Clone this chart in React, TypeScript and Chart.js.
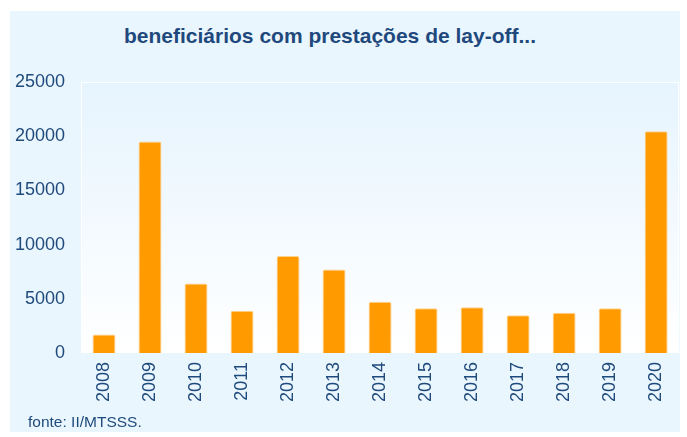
import React, { useEffect, useRef } from "react";
import { Chart, registerables } from "chart.js";

Chart.register(...registerables);

const years = ["2008", "2009", "2010", "2011", "2012", "2013", "2014", "2015", "2016", "2017", "2018", "2019", "2020"];
const beneficiarios = [1700, 19500, 6400, 3900, 8950, 7700, 4730, 4120, 4210, 3480, 3720, 4120, 20450];
const yTicks = [0, 5000, 10000, 15000, 20000, 25000];

const titleText = "beneficiários com prestações de lay-off...";
const sourceText = "fonte: II/MTSSS.";

const TEXT = "#1F4A7C";
const PANEL = "#EAF6FD";
const FONT = "'Liberation Sans', Arial, sans-serif";

const bgPlugin = {
  id: "bgPlugin",
  beforeDraw(chart: any) {
    const { ctx, chartArea } = chart;
    const { left, top, right, bottom } = chartArea;
    ctx.save();
    const g = ctx.createLinearGradient(0, top, 0, bottom);
    g.addColorStop(0, "#E6F4FE");
    g.addColorStop(1, "#FFFFFF");
    ctx.fillStyle = g;
    ctx.fillRect(left, top, right - left, bottom - top);
    ctx.strokeStyle = "rgba(255,255,255,0.9)";
    ctx.lineWidth = 1;
    ctx.strokeRect(left + 0.5, top + 0.5, right - left - 1, bottom - top - 1);
    ctx.restore();
  },
};

export default function App() {
  const ref = useRef<HTMLCanvasElement | null>(null);
  useEffect(() => {
    if (!ref.current) return;
    const chart = new Chart(ref.current, {
      type: "bar",
      data: {
        labels: years,
        datasets: [
          {
            data: beneficiarios,
            backgroundColor: "#FF9A00",
            borderColor: "rgba(255,205,130,0.9)",
            borderWidth: 1,
            borderRadius: 2,
            borderSkipped: "bottom",
            barPercentage: 0.5,
            categoryPercentage: 1,
          },
        ],
      },
      options: {
        responsive: false,
        animation: false,
        devicePixelRatio: 1,
        layout: { padding: { left: 0, right: 7, top: 82, bottom: 0 } },
        plugins: { legend: { display: false }, tooltip: { enabled: false }, title: { display: false } },
        scales: {
          x: {
            grid: { display: false, drawTicks: false },
            border: { display: false },
            ticks: {
              color: TEXT,
              font: { family: FONT, size: 18 },
              minRotation: 90,
              maxRotation: 90,
              padding: 9,
              autoSkip: false,
            },
            afterFit(scale: any) {
              scale.height = 84;
            },
          },
          y: {
            min: 0,
            max: 25000,
            grid: { display: false, drawTicks: false },
            border: { display: false },
            afterBuildTicks(scale: any) {
              scale.ticks = yTicks.map((v) => ({ value: v }));
            },
            ticks: {
              color: TEXT,
              font: { family: FONT, size: 18 },
              padding: 16,
              callback: (v: any) => String(v),
            },
            afterFit(scale: any) {
              scale.width = 81;
            },
          },
        },
      },
      plugins: [bgPlugin],
    });
    return () => chart.destroy();
  }, []);

  return (
    <div style={{ position: "fixed", left: 0, top: 0, width: 687, height: 437, background: "#FFFFFF", overflow: "hidden" }}>
      <div style={{ position: "absolute", left: 10, top: 11, width: 670, height: 421, background: PANEL }} />
      <div
        style={{
          position: "absolute",
          left: 0,
          top: 26,
          width: 660,
          textAlign: "center",
          fontFamily: FONT,
          fontWeight: "bold",
          fontSize: 21,
          lineHeight: "20px",
          color: "#1F497D",
          whiteSpace: "nowrap",
        }}
      >
        {titleText}
      </div>
      <canvas ref={ref} width={687} height={437} style={{ position: "absolute", left: 0, top: 0, width: 687, height: 437 }} />
      <div
        style={{
          position: "absolute",
          left: 28,
          top: 414,
          fontFamily: FONT,
          fontSize: 15.5,
          lineHeight: "15px",
          color: TEXT,
          whiteSpace: "nowrap",
        }}
      >
        {sourceText}
      </div>
    </div>
  );
}
